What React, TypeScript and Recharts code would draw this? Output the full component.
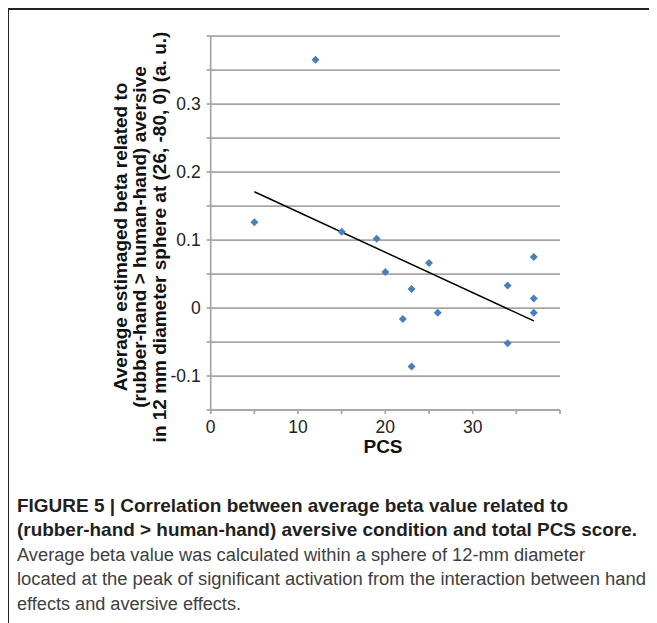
import React from 'react';
import { ScatterChart, Scatter, XAxis, YAxis, CartesianGrid, ReferenceLine } from 'recharts';

const xValues = [5, 12, 15, 19, 20, 25, 23, 22, 26, 23, 34, 34, 37, 37, 37];
const yValues = [0.126, 0.365, 0.112, 0.102, 0.053, 0.066, 0.028, -0.016, -0.007, -0.086, 0.033, -0.052, 0.075, 0.014, -0.007];
const trendStart = { x: 5, y: 0.171 };
const trendEnd = { x: 37, y: -0.019 };

const xTicks = [0, 5, 10, 15, 20, 25, 30, 35, 40];
const xTickLabels = [0, 10, 20, 30];
const yTicks = [-0.15, -0.1, -0.05, 0, 0.05, 0.1, 0.15, 0.2, 0.25, 0.3, 0.35, 0.4];
const yTickLabels = [-0.1, 0, 0.1, 0.2, 0.3];

const yTitleLines = [
  'Average estimaged beta related to',
  '(rubber-hand > human-hand) aversive',
  'in 12 mm diameter sphere at (26, -80, 0) (a. u.)',
];
const xTitle = 'PCS';
const captionBold = [
  'FIGURE 5 | Correlation between average beta value related to',
  '(rubber-hand > human-hand) aversive condition and total PCS score.',
];
const captionRegular = [
  'Average beta value was calculated within a sphere of 12-mm diameter',
  'located at the peak of significant activation from the interaction between hand',
  'effects and aversive effects.',
];
const captionBoldWidths = [551, 620];
const captionRegularWidths = [568, 629, 224];

const points = xValues.map((x, i) => ({ x, y: yValues[i] }));

const FONT = '"Liberation Sans", Arial, Helvetica, sans-serif';
const GRID = '#a6a6a6';

const Diamond = (props: any) => {
  const { cx, cy } = props;
  if (cx == null || cy == null) return <g />;
  const r = 4;
  return (
    <polygon
      points={`${cx},${cy - r} ${cx + r},${cy} ${cx},${cy + r} ${cx - r},${cy}`}
      fill="#4a7ebb"
    />
  );
};

const near = (a: number, b: number) => Math.abs(a - b) < 1e-9;

export default function App() {
  return (
    <div
      style={{
        position: 'relative',
        width: 649,
        height: 615,
        marginLeft: -1,
        borderLeft: '2px solid #222',
        borderTop: '2px solid #222',
        boxSizing: 'border-box',
        fontFamily: FONT,
      }}
    >
      <div style={{ position: 'absolute', left: -9, top: -10, width: 657, height: 623 }}>
        <div style={{ position: 'absolute', left: 0, top: 0 }}>
          <ScatterChart
            width={657}
            height={470}
            margin={{ top: 36, right: 97, bottom: 0, left: 150.7 }}
          >
            <CartesianGrid vertical={false} stroke={GRID} strokeWidth={1.75} />
            <XAxis
              type="number"
              dataKey="x"
              domain={[0, 40]}
              ticks={xTicks}
              interval={0}
              height={60}
              stroke={GRID}
              strokeWidth={1.75}
              tickSize={4}
              tickMargin={7}
              tick={{ fill: '#222', fontSize: 17.5, fontFamily: FONT }}
              tickFormatter={(v: number) => (xTickLabels.some((t) => near(t, v)) ? String(v) : '')}
            />
            <YAxis
              type="number"
              dataKey="y"
              domain={[-0.15, 0.4]}
              ticks={yTicks}
              interval={0}
              width={60}
              stroke={GRID}
              strokeWidth={1.75}
              tickSize={4}
              tickMargin={6}
              tick={{ fill: '#222', fontSize: 17.5, fontFamily: FONT }}
              tickFormatter={(v: number) => {
                const m = yTickLabels.find((t) => near(t, v));
                return m === undefined ? '' : String(m);
              }}
            />
            <Scatter data={points} shape={Diamond} isAnimationActive={false} />
            <ReferenceLine
              segment={[trendStart, trendEnd]}
              stroke="#000"
              strokeWidth={1.5}
              ifOverflow="visible"
            />
          </ScatterChart>
        </div>
        <svg
          width={657}
          height={470}
          style={{ position: 'absolute', left: 0, top: 0, pointerEvents: 'none' }}
        >
          {yTitleLines.map((line, i) => {
            const cx = 120 + i * 19.8;
            const cy = 237;
            return (
              <text
                key={i}
                x={cx}
                y={cy}
                transform={`rotate(-90 ${cx} ${cy})`}
                textAnchor="middle"
                dominantBaseline="central"
                fontFamily={FONT}
                fontWeight="bold"
                fontSize={19}
                fill="#111"
              >
                {line}
              </text>
            );
          })}
          <text
            x={383}
            y={453}
            textAnchor="middle"
            fontFamily={FONT}
            fontWeight="bold"
            fontSize={19}
            fill="#111"
          >
            {xTitle}
          </text>
        </svg>
        <svg
          width={657}
          height={150}
          style={{ position: 'absolute', left: 0, top: 470 }}
        >
          {captionBold.map((line, i) => (
            <text
              key={'b' + i}
              x={17}
              y={41.5 + i * 24.5}
              fontFamily={FONT}
              fontWeight="bold"
              fontSize={18.5}
              textLength={captionBoldWidths[i]}
              lengthAdjust="spacingAndGlyphs"
              fill="#231f20"
            >
              {line}
            </text>
          ))}
          {captionRegular.map((line, i) => (
            <text
              key={'r' + i}
              x={17}
              y={41.5 + (i + 2) * 24.5}
              fontFamily={FONT}
              fontSize={18}
              textLength={captionRegularWidths[i]}
              lengthAdjust="spacingAndGlyphs"
              fill="#404040"
            >
              {line}
            </text>
          ))}
        </svg>
      </div>
    </div>
  );
}
